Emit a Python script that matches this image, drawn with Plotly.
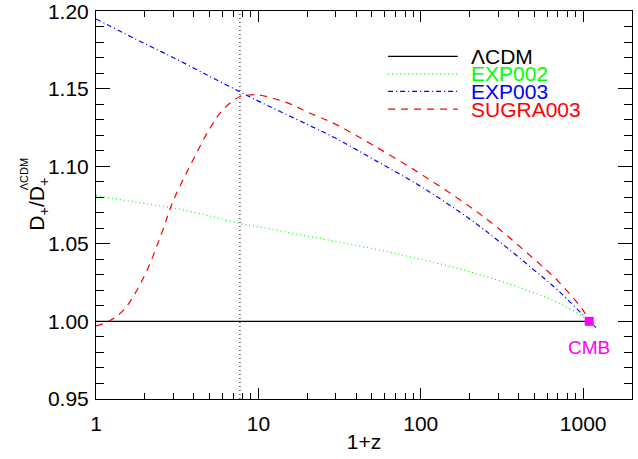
import plotly.graph_objects as go

# Growth factor ratio D+/D+^LCDM versus 1+z for the early dark energy models
opz_exp002 = [1, 1.5, 2, 3, 5, 7.7, 10, 20, 50, 100, 200, 400, 700, 1000, 1100, 1200]
d_exp002 = [1.081, 1.078, 1.076, 1.073, 1.068, 1.063, 1.061, 1.055, 1.047, 1.040,
            1.032, 1.022, 1.012, 1.003, 1.000, 0.998]

opz_exp003 = [1, 2, 3, 5, 7.7, 10, 20, 30, 50, 100, 200, 300, 500, 700, 1000, 1090, 1200]
d_exp003 = [1.195, 1.179, 1.170, 1.158, 1.148, 1.142, 1.127, 1.118, 1.105, 1.087,
            1.066, 1.052, 1.033, 1.020, 1.004, 1.000, 0.996]

opz_sugra = [1, 1.2, 1.5, 2, 2.5, 3, 4, 5, 6, 7.7, 9, 10, 15, 20, 30, 50, 100, 200, 300,
             500, 700, 1000, 1090]
d_sugra = [0.997, 1.000, 1.008, 1.030, 1.055, 1.078, 1.105, 1.124, 1.136, 1.145, 1.146,
           1.146, 1.141, 1.135, 1.127, 1.114, 1.095, 1.074, 1.060, 1.040, 1.026, 1.007, 1.000]

opz_lcdm = [1, 1090]
d_lcdm = [1.0, 1.0]

opz_cmb = [1090]
d_cmb = [1.0]

opz_marker = 7.7  # vertical reference line

legend_names = ["\u039bCDM", "EXP002", "EXP003", "SUGRA003"]
legend_colors = ["#000000", "#00ff00", "#0000ff", "#ff0000"]
legend_dashes = ["solid", "1px,3px", "5px,3px,1px,3px", "7px,6px"]

x_ticks = [1, 10, 100, 1000]
x_minor = [m * 10 ** e for e in range(4) for m in range(2, 10) if m * 10 ** e < 2000]
y_ticks = [0.95, 1.00, 1.05, 1.10, 1.15, 1.20]
y_minor = [round(0.95 + 0.01 * i, 2) for i in range(26)]
x_range = [0, 3.301]
y_range = [0.9499, 1.2001]

FONT = "Liberation Sans, Arial, sans-serif"
FS = 21
TICK = "#000000"

fig = go.Figure()

series = [
    (opz_lcdm, d_lcdm),
    (opz_exp002, d_exp002),
    (opz_exp003, d_exp003),
    (opz_sugra, d_sugra),
]
for (xs, ys), name, col, dash in zip(series, legend_names, legend_colors, legend_dashes):
    fig.add_trace(go.Scatter(
        x=xs, y=ys, mode="lines", name=name, line_shape="spline",
        line=dict(color=col, width=1.2, dash=dash), showlegend=False,
    ))

fig.add_trace(go.Scatter(
    x=opz_cmb, y=d_cmb, mode="markers",
    marker=dict(symbol="square", size=9, color="#ff00ff"), showlegend=False,
))
fig.add_annotation(x=3.0374, y=d_cmb[0], xref="x", yref="y", text="CMB", showarrow=False,
                   yshift=-26, font=dict(color="#ff00ff", size=19, family=FONT))

fig.add_shape(type="line", xref="x", yref="paper", x0=opz_marker, x1=opz_marker, y0=0, y1=1,
              line=dict(color="black", width=1, dash="1px,3px"))

# Hand-placed legend block
leg_x0, leg_x1, leg_tx = 0.545, 0.675, 0.695
leg_rows = [0.883, 0.838, 0.793, 0.747]
for name, col, dash, yy in zip(legend_names, legend_colors, legend_dashes, leg_rows):
    fig.add_shape(type="line", xref="paper", yref="paper", x0=leg_x0, x1=leg_x1, y0=yy, y1=yy,
                  line=dict(color=col, width=1.2, dash=dash))
    fig.add_annotation(xref="paper", yref="paper", x=leg_tx, y=yy, text=name, showarrow=False,
                       xanchor="left", yanchor="middle",
                       font=dict(color=col, size=FS, family=FONT))

# y-axis title with the superscript stacked over the subscript
fig.add_annotation(xref="paper", yref="paper", x=-0.136, y=0.501, textangle=-90,
                   text="D<sub>+</sub>/D<sub>+</sub>", showarrow=False,
                   font=dict(size=FS, family=FONT, color="black"))
fig.add_annotation(xref="paper", yref="paper", x=-0.150, y=0.578, textangle=-90,
                   text="\u039bCDM", showarrow=False,
                   font=dict(size=11, family=FONT, color="black"))

axis_common = dict(
    showgrid=False, zeroline=False, tickwidth=1, ticks="inside", tickcolor=TICK,
    tickfont=dict(size=FS, family=FONT, color="black"), automargin=False,
    showline=True, linecolor="black", linewidth=1, mirror="allticks",
)

fig.update_layout(
    xaxis=dict(
        type="log", range=x_range, tickmode="array", tickvals=x_ticks,
        ticktext=[str(v) for v in x_ticks], ticklen=11, ticklabelstandoff=6,
        minor=dict(ticks="inside", ticklen=6, tickcolor=TICK, tickwidth=1,
                   tickmode="array", tickvals=x_minor, showgrid=False),
        title=dict(text="1+z", font=dict(size=FS, family=FONT, color="black"), standoff=0),
        **axis_common,
    ),
    yaxis=dict(
        range=y_range, tickmode="array", tickvals=y_ticks, tickformat=".2f",
        ticklabeloverflow="allow", ticklen=14, ticklabelstandoff=2,
        minor=dict(ticks="inside", ticklen=8, tickcolor=TICK, tickwidth=1,
                   tickmode="array", tickvals=y_minor, showgrid=False),
        **axis_common,
    ),
    width=638, height=459, margin=dict(l=96, r=6, t=11, b=60),
    plot_bgcolor="white", paper_bgcolor="white", font=dict(family=FONT),
)

fig.write_html("out.html")
